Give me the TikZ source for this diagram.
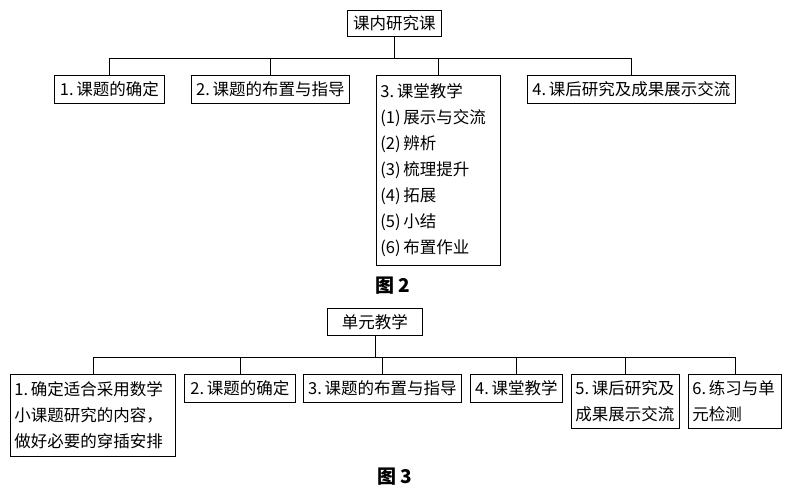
\documentclass[tikz,border=0pt]{standalone}
\usepackage{fontspec}
\newfontfamily\cjk{Noto Sans CJK SC}
\usetikzlibrary{positioning, calc}

\begin{document}
\begin{tikzpicture}[
  x=1pt, y=-1pt,
  every node/.style={font=\cjk\fontsize{16.5}{26}\selectfont},
  box/.style={
    draw, line width=0.8pt, anchor=north west,
    inner xsep=4pt, inner ysep=0pt, minimum height=28pt
  },
  multibox/.style={box, align=left},
  link/.style={line width=0.8pt},
  caption/.style={font=\cjk\bfseries\fontsize{19}{19}\selectfont},
]
\useasboundingbox (0,0) rectangle (790,493);

% Figure 2
\node[box, minimum width=94pt, minimum height=26pt] (t2) at (347,10) {课内研究课};

\node[box, minimum width=110pt] (a1) at (54,75) {1.\,课题的确定};
\node[box, minimum width=158pt] (a2) at (191,75) {2.\,课题的布置与指导};
\node[multibox, text width=116pt, minimum height=190pt] (a3) at (376,75)
  {3.\,课堂教学\\(1)\,展示与交流\\(2)\,辨析\\(3)\,梳理提升\\(4)\,拓展\\(5)\,小结\\(6)\,布置作业};
\node[box, minimum width=208pt] (a4) at (527,75) {4.\,课后研究及成果展示交流};

\coordinate (bar2) at (0,58);
\draw[link] (t2.south) -- (t2.south |- bar2);
\draw[link] (a1.north) -- (a1.north |- bar2) -- (a4.north |- bar2) -- (a4.north);
\foreach \n in {a2,a3}
  \draw[link] (\n.north) -- (\n.north |- bar2);

\node[caption] (c2) at (393,286) {图 2};

% Figure 3
\node[box, minimum width=95pt, minimum height=27pt] (t3) at (327,308) {单元教学};

\node[multibox, text width=157pt, minimum height=82pt] (b1) at (10,374)
  {1.\,确定适合采用数学\\小课题研究的内容，\\做好必要的穿插安排};
\node[box, minimum width=111pt] (b2) at (184,374) {2.\,课题的确定};
\node[box, minimum width=158pt] (b3) at (303,374) {3.\,课题的布置与指导};
\node[box, minimum width=92pt] (b4) at (470,374) {4.\,课堂教学};
\node[multibox, text width=100pt, minimum height=54pt] (b5) at (571,374)
  {5.\,课后研究及\\成果展示交流};
\node[multibox, text width=85pt, minimum height=54pt] (b6) at (688,374)
  {6.\,练习与单\\元检测};

\coordinate (bar3) at (0,357);
\draw[link] (t3.south) -- (t3.south |- bar3);
\draw[link] (b1.north) -- (b1.north |- bar3) -- (b6.north |- bar3) -- (b6.north);
\foreach \n in {b2,b3,b4,b5}
  \draw[link] (\n.north) -- (\n.north |- bar3);

\node[caption] (c3) at (395,477) {图 3};

\end{tikzpicture}
\end{document}
